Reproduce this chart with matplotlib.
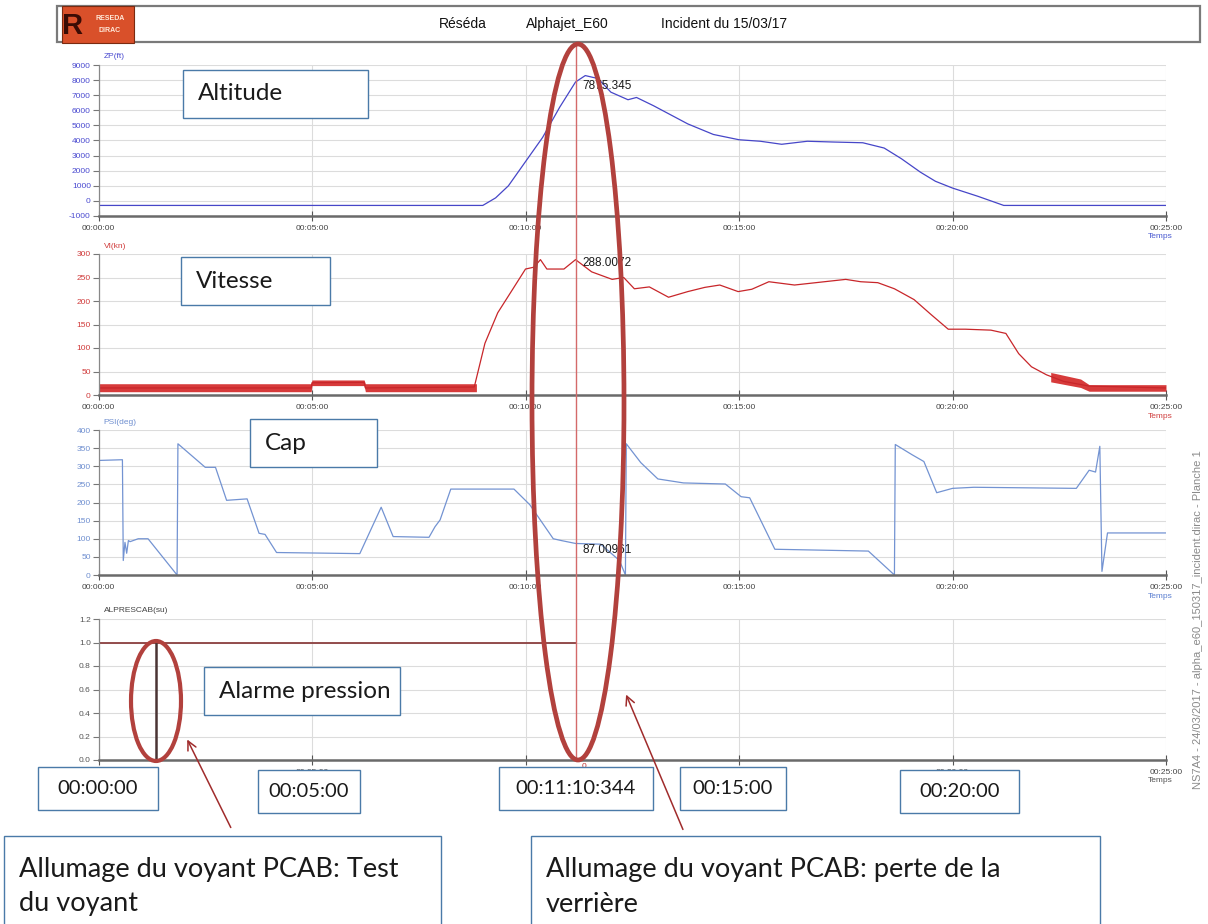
import matplotlib
matplotlib.use("Agg")
import matplotlib.pyplot as plt
from matplotlib.patches import Ellipse, Rectangle, FancyArrowPatch
from matplotlib.lines import Line2D
from matplotlib.ticker import FuncFormatter, MultipleLocator
import matplotlib.transforms as mtransforms

plt.rcParams['font.family'] = ['Liberation Sans', 'DejaVu Sans']

# ---------------- data (time in minutes) ----------------
alt_t = [0, 9.0, 9.3, 9.6, 10.0, 10.4, 10.8, 11.172, 11.4, 11.7, 12.0, 12.4, 12.6, 13.0,
         13.4, 13.8, 14.4, 15.0, 15.5, 16.0, 16.6, 17.2, 17.9, 18.4, 18.8, 19.25, 19.6,
         20.0, 20.6, 21.2, 25]
alt_v = [-300, -300, 200, 1000, 2600, 4200, 6200, 7875, 8300, 8100, 7200, 6700, 6850, 6300,
         5700, 5100, 4400, 4050, 3950, 3750, 3950, 3900, 3850, 3500, 2800, 1900, 1300,
         850, 300, -300, -300]

spd_t = [0, 4.98, 5.0, 6.22, 6.25, 8.8, 9.05, 9.35, 9.7, 10.0, 10.2, 10.35, 10.5, 10.9,
         11.172, 11.55, 12.03, 12.3, 12.55, 12.9, 13.35, 13.8, 14.2, 14.55, 14.98, 15.3,
         15.7, 16.3, 16.8, 17.5, 17.85, 18.25, 18.64, 19.1, 19.5, 19.9, 20.3, 20.9, 21.25,
         21.55, 21.85, 22.2, 22.6, 23.2, 25]
spd_v = [15, 15, 26, 27, 15, 17, 110, 175, 225, 268, 272, 288, 268, 268,
         288, 262, 246, 250, 226, 230, 208, 220, 229, 234, 220, 225,
         241, 234, 239, 246, 241, 239, 226, 203, 171, 140, 140, 138, 131,
         88, 60, 43, 29, 19, 15]
# envelope of the noisy low-speed segments
band_t = [0, 4.98, 5.0, 6.22, 6.25, 8.85]
band_lo = [7, 7, 20, 20, 7, 7]
band_hi = [24, 24, 32, 32, 24, 24]
tail_t = [22.3, 23.0, 23.2, 25]
tail_lo = [28, 16, 8, 8]
tail_hi = [48, 34, 22, 22]

hdg_t = [0, 0.56, 0.58, 0.62, 0.66, 0.70, 0.74, 0.93, 1.16, 1.84, 1.86, 2.5, 2.74, 3.0,
         3.48, 3.76, 3.9, 4.17, 6.12, 6.62, 6.9, 7.74, 7.88, 8.0, 8.25, 9.73, 10.1, 10.65,
         10.84, 11.172, 11.76, 12.2, 12.34, 12.36, 12.7, 13.1, 13.7, 14.68, 15.05, 15.25,
         15.84, 18.03, 18.64, 18.66, 19.05, 19.33, 19.63, 20.0, 20.5, 22.9, 23.2, 23.35,
         23.45, 23.5, 23.63, 25]
hdg_v = [316, 318, 40, 90, 60, 95, 92, 100, 100, 0, 362, 297, 297, 206,
         210, 115, 112, 62, 59, 187, 106, 104, 133, 152, 237, 237, 194, 100,
         95, 87, 85, 40, 0, 362, 310, 265, 254, 251, 216, 213,
         71, 66, 0, 360, 332, 313, 227, 239, 242, 239, 289, 284,
         355, 10, 116, 116]

alp_t = [0, 11.172]
alp_v = [1.0, 1.0]
test_t = [1.35, 1.35]
test_v = [0.0, 1.0]

cursor_t = 11.172
cursor_vals = [7875.345, 288.0072, 87.00961]
cursor_texts = ["7875.345", "288.0072", "87.00961"]

x_ticks = [0, 5, 10, 15, 20, 25]
y_labels = ["ZP(ft)", "VI(kn)", "PSI(deg)", "ALPRESCAB(su)"]
time_boxes = ["00:00:00", "00:05:00", "00:11:10:344", "00:15:00", "00:20:00"]

# ---------------- figure ----------------
W, H = 1208, 924
fig = plt.figure(figsize=(W / 100, H / 100), dpi=100)
fig.patch.set_facecolor("white")
px = mtransforms.Affine2D().scale(1 / W, -1 / H).translate(0, 1) + fig.transFigure


def axrect(x0, yt, x1, yb):
    return [x0 / W, 1 - yb / H, (x1 - x0) / W, (yb - yt) / H]


fmt_time = FuncFormatter(lambda v, p: "00:%02d:00" % int(round(v)))

panels = [
    dict(rect=(98.5, 65, 1166, 216), ylim=(-1000, 9000), step=1000, col="#4646c8", lab="#4a4ad0",
         fmt=lambda v, p: "%d" % v, temps="#4a5ad0"),
    dict(rect=(98.5, 254, 1166, 395), ylim=(0, 300), step=50, col="#c8262a", lab="#d03a3a",
         fmt=lambda v, p: "%d" % v, temps="#d04040"),
    dict(rect=(98.5, 430, 1166, 575), ylim=(0, 400), step=50, col="#7393d2", lab="#6f8fd0",
         fmt=lambda v, p: "%d" % v, temps="#5b7fd0"),
    dict(rect=(98.5, 619, 1166, 760), ylim=(0, 1.2), step=0.2, col="#8b3f3f", lab="#555555",
         fmt=lambda v, p: "%.1f" % v, temps="#555555"),
]

axes = []
for i, pdef in enumerate(panels):
    ax = fig.add_axes(axrect(*pdef["rect"]))
    ax.set_xlim(0, 25)
    ax.set_ylim(*pdef["ylim"])
    ax.set_xticks(x_ticks)
    ax.xaxis.set_major_formatter(fmt_time)
    ax.yaxis.set_major_locator(MultipleLocator(pdef["step"]))
    ax.yaxis.set_major_formatter(FuncFormatter(pdef["fmt"]))
    ax.grid(True, color="#dcdcdc", lw=0.8)
    ax.set_axisbelow(True)
    for s in ["top", "right"]:
        ax.spines[s].set_visible(False)
    ax.spines["left"].set_color("#888888")
    ax.spines["left"].set_linewidth(0.9)
    ax.spines["bottom"].set_color("#6a6a6a")
    ax.spines["bottom"].set_linewidth(1.8)
    ax.tick_params(axis="y", direction="out", length=4, color="#777777", labelsize=6,
                   labelcolor=pdef["lab"], pad=1.5)
    ax.tick_params(axis="x", direction="inout", length=7, color="#555555", labelsize=6,
                   labelcolor="#444444", pad=3)
    ax.annotate(y_labels[i], xy=(0, 1), xycoords="axes fraction", xytext=(5, 8),
                textcoords="offset pixels", ha="left", va="center", fontsize=6,
                color=pdef["lab"] if i < 3 else "#444444")
    ax.annotate("Temps", xy=(1, 0), xycoords="axes fraction", xytext=(-6, -21),
                textcoords="offset pixels", ha="center", va="center", fontsize=6,
                color=pdef["temps"])
    axes.append(ax)

ax1, ax2, ax3, ax4 = axes
ax1.plot(alt_t, alt_v, color=panels[0]["col"], lw=0.9)
ax2.fill_between(band_t, band_lo, band_hi, color="#d01818", alpha=0.85, lw=0)
ax2.fill_between(tail_t, tail_lo, tail_hi, color="#d01818", alpha=0.85, lw=0)
ax2.plot(spd_t, spd_v, color=panels[1]["col"], lw=0.9)
ax3.plot(hdg_t, hdg_v, color=panels[2]["col"], lw=0.9)
ax4.plot(alp_t, alp_v, color=panels[3]["col"], lw=1.3)
ax4.plot(test_t, test_v, color="#4a3434", lw=1.8)

# cursor value labels
for ax, v, txt, dy in zip(axes[:3], cursor_vals, cursor_texts, [-4, -3, -7]):
    ax.annotate(txt, xy=(cursor_t, v), xytext=(7, dy), textcoords="offset pixels",
                ha="left", va="center", fontsize=8.5, color="#1a1a1a")
ax4.annotate("0", xy=(cursor_t, 0), xytext=(8, -6), textcoords="offset pixels",
             ha="center", va="center", fontsize=6, color="#c03030")

# cursor vertical line spanning all panels
bl = mtransforms.blended_transform_factory(ax1.transData, px)
fig.add_artist(Line2D([cursor_t, cursor_t], [45, 760], transform=bl, color="#d46a6a",
                      lw=1.0, zorder=3))

# ---------------- header ----------------
fig.add_artist(Rectangle((57, 6), 1143, 36, transform=px, fill=False, ec="#7a7a7a", lw=1.6))
fig.add_artist(Rectangle((62, 6), 72, 37, transform=px, fc="#d9502a", ec="#7a2a10", lw=0.8, zorder=4))
fig.text(73, 26, "R", transform=px, fontsize=21, fontweight="bold", color="#3a0c05",
         ha="center", va="center", zorder=5)
fig.text(110, 19, "RESEDA", transform=px, fontsize=5, fontweight="bold", color="#ffe8d8",
         ha="center", va="center", zorder=5)
fig.text(110, 30, "DIRAC", transform=px, fontsize=5, fontweight="bold", color="#ffe8d8",
         ha="center", va="center", zorder=5)
for txt, xc in zip(["Réséda", "Alphajet_E60", "Incident du 15/03/17"], [463, 567, 724]):
    fig.text(xc, 24, txt, transform=px, fontsize=10, color="#111111", ha="center", va="center")

fig.text(1198, 620, "NS7A4 - 24/03/2017 - alpha_e60_150317_incident.dirac - Planche 1",
         transform=px, rotation=90, fontsize=8, color="#8a8a8a", ha="center", va="center")

# ---------------- annotations ----------------
BOX = "#4a7aa8"
CAL = ['Lato', 'DejaVu Sans']


def tbox(x0, y0, x1, y1, text, fs, tx=None, ty=None, ha="left"):
    fig.add_artist(Rectangle((x0, y0), x1 - x0, y1 - y0, transform=px, fc="white",
                             ec=BOX, lw=1.0, zorder=6))
    fig.text(tx if tx is not None else x0 + 15, ty if ty is not None else (y0 + y1) / 2,
             text, transform=px, fontsize=fs, family=CAL, color="#1a1a1a",
             ha=ha, va="center", zorder=7)


tbox(183, 70, 368, 118, "Altitude", 17.5)
tbox(181, 257, 330, 305, "Vitesse", 17.5)
tbox(250, 419, 377, 467, "Cap", 17.5)
tbox(204, 667, 400, 715, "Alarme pression", 17.5)

tb_rects = [(38, 767, 158, 810), (258, 770, 360, 813), (499, 767, 653, 810),
            (680, 767, 786, 810), (900, 770, 1019, 813)]
for (x0, y0, x1, y1), txt in zip(tb_rects, time_boxes):
    tbox(x0, y0, x1, y1, txt, 14.5, tx=(x0 + x1) / 2, ha="center")

fig.add_artist(Rectangle((4, 836), 437, 100, transform=px, fc="white", ec=BOX, lw=1.0, zorder=6))
fig.text(19, 869, "Allumage du voyant PCAB: Test", transform=px, fontsize=19.5, family=CAL,
         color="#1a1a1a", ha="left", va="center", zorder=7)
fig.text(19, 904, "du voyant", transform=px, fontsize=19.5, family=CAL,
         color="#1a1a1a", ha="left", va="center", zorder=7)
fig.add_artist(Rectangle((531, 836), 569, 100, transform=px, fc="white", ec=BOX, lw=1.0, zorder=6))
fig.text(546, 869, "Allumage du voyant PCAB: perte de la", transform=px, fontsize=19.5, family=CAL,
         color="#1a1a1a", ha="left", va="center", zorder=7)
fig.text(546, 904, "verrière", transform=px, fontsize=19.5, family=CAL,
         color="#1a1a1a", ha="left", va="center", zorder=7)

# ellipses
ELL = "#b2413d"
fig.add_artist(Ellipse((578, 402), 92, 716, transform=px, fill=False, ec=ELL, lw=3.4, zorder=8))
fig.add_artist(Ellipse((156, 701), 50, 120, transform=px, fill=False, ec=ELL, lw=3.0, zorder=8))

# arrows
for (xa, ya), (xb, yb) in [((232, 830), (186, 737)), ((684, 832), (625, 692))]:
    fig.add_artist(FancyArrowPatch((xa, ya), (xb, yb), transform=px, arrowstyle="->",
                                   mutation_scale=16, color="#a02c2c", lw=1.1, zorder=8))

fig.savefig("out.png", dpi=100)
